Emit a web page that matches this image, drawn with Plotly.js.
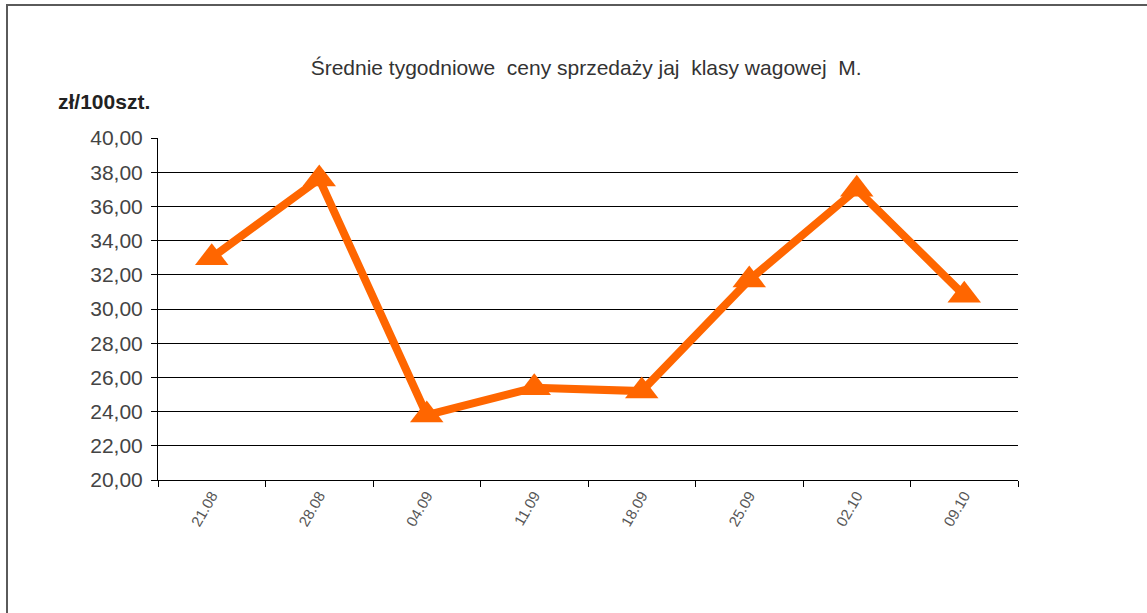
<!DOCTYPE html>
<html>
<head>
<meta charset="utf-8">
<script src="https://cdn.plot.ly/plotly-3.0.1.min.js"></script>
<style>
  html, body { margin: 0; padding: 0; background: #fff; }
  #frame { position: absolute; left: 6px; top: 4px; width: 1160px; height: 640px;
           border-left: 2px solid #5a5a5a; border-top: 2px solid #5a5a5a; box-sizing: border-box; }
  #chart { position: absolute; left: 0; top: 0; width: 1147px; height: 613px; }
</style>
</head>
<body>
<div id="frame"></div>
<div id="chart"></div>
<script>
const categories = ["21.08", "28.08", "04.09", "11.09", "18.09", "25.09", "02.10", "09.10"];
const prices = [33.0, 37.6, 23.8, 25.4, 25.2, 31.7, 37.0, 30.8];
const yTickValues = [20, 22, 24, 26, 28, 30, 32, 34, 36, 38, 40];

const trace = {
  type: "scatter",
  mode: "lines+markers",
  x: categories,
  y: prices,
  line: { color: "#FF6600", width: 8 },
  marker: { symbol: "triangle-up", size: 29, color: "#FF6600" },
  hoverinfo: "x+y"
};

const layout = {
  width: 1147,
  height: 613,
  margin: { l: 158, r: 129, t: 138, b: 133 },
  paper_bgcolor: "rgba(0,0,0,0)",
  plot_bgcolor: "rgba(0,0,0,0)",
  separators: ", ",
  showlegend: false,
  font: { family: "Liberation Sans, Arial, sans-serif", color: "#444" },
  title: {
    text: "Średnie tygodniowe\u00a0 ceny sprzedaży jaj\u00a0 klasy wagowej\u00a0 M.",
    font: { size: 21, color: "#333" },
    x: 0.511, xanchor: "center",
    y: 1 - 68 / 613, yanchor: "middle"
  },
  xaxis: {
    type: "category",
    range: [-0.5, categories.length - 0.5],
    tickson: "boundaries",
    ticks: "outside",
    ticklen: 6,
    tickcolor: "#000",
    tickwidth: 1,
    showgrid: false,
    showline: true,
    linecolor: "#000",
    linewidth: 1,
    tickangle: -60,
    tickfont: { size: 15, color: "#555" },
    zeroline: false
  },
  yaxis: {
    range: [20, 40],
    tickvals: yTickValues,
    tickformat: ".2f",
    ticks: "outside",
    ticklen: 6,
    tickcolor: "#000",
    ticklabelstandoff: 4,
    showgrid: true,
    gridcolor: "#000",
    gridwidth: 1,
    showline: true,
    linecolor: "#000",
    linewidth: 1,
    zeroline: false,
    tickfont: { size: 21, color: "#444" },
    automargin: false
  },
  annotations: [{
    text: "<b>zł/100szt.</b>",
    xref: "paper", yref: "paper",
    x: (56 - 158) / 860, xanchor: "left",
    y: (480 - 102) / 342, yanchor: "middle",
    showarrow: false,
    font: { size: 21, color: "#222" }
  }]
};

Plotly.newPlot("chart", [trace], layout, { displayModeBar: false, staticPlot: true });
</script>
</body>
</html>
